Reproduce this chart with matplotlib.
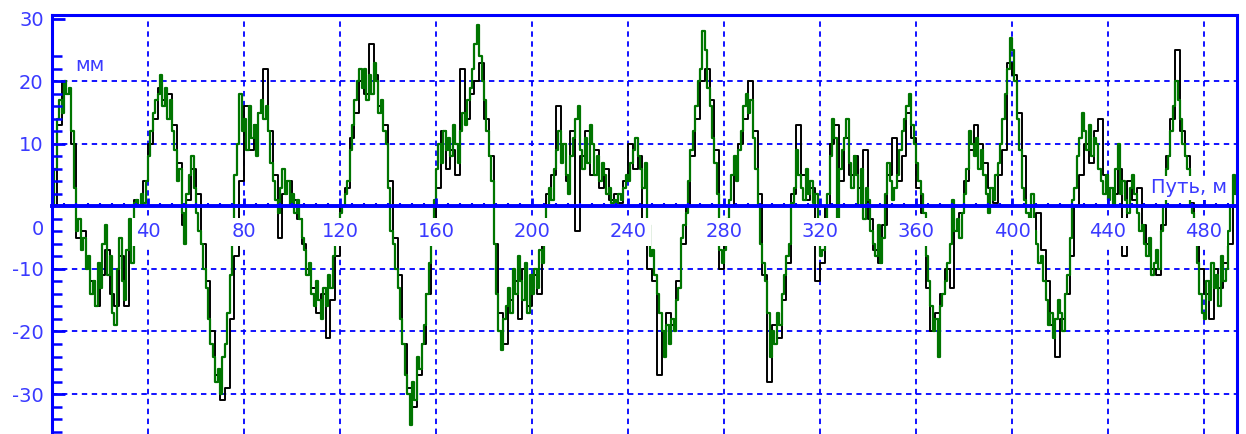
import numpy as np
import matplotlib
matplotlib.use("Agg")
import matplotlib.pyplot as plt
from matplotlib.ticker import FixedLocator

# track deviation, mm, sampled every 1 m (green) and every 2 m (black)
green = [
    0, 6, 14, 17, 15, 20, 18, 19, 12, 3,
    -4, -2, -7, -5, -10, -8, -14, -12, -16, -9,
    -13, -6, -3, -11, -8, -17, -19, -10, -5, -12,
    -15, -7, -2, -9, 0.5, 1, 0, 2, 0.5, 4,
    8, 12, 15, 17, 18, 21, 16, 19, 14, 17,
    12, 9, 4, 6, -1, -6, 2, 5, 8, 3,
    -1, -4, -6, -10, -13, -18, -22, -24, -28, -26,
    -30, -24, -22, -17, -11, -6, 5, 10, 18, 12,
    14, 9, 16, 11, 13, 8, 15, 17, 14, 16,
    12, 7, 4, 1, -1, 3, 6, 2, 4, 0,
    2, -1, 1, -2, -5, -7, -11, -9, -14, -16,
    -12, -15, -18, -13, -16, -11, -13, -8, -6, -4,
    -1, 0, 2, 4, 9, 13, 17, 20, 22, 19,
    22, 17, 21, 18, 23, 20, 15, 17, 12, 10,
    3, -4, -6, -10, -13, -18, -22, -27, -30, -35,
    -28, -31, -24, -26, -22, -19, -14, -9, -5, 1,
    6, 10, 7, 12, 9, 11, 8, 13, 10, 7,
    12, 15, 13, 17, 19, 22, 26, 29, 24, 20,
    17, 12, 8, 4, -6, -14, -20, -23, -18, -16,
    -13, -17, -10, -14, -8, -12, -15, -9, -17, -11,
    -14, -10, -13, -7, -9, -3, 0, 3, 1, 6,
    9, 12, 7, 10, 5, 2, 8, 11, 14, 16,
    9, 6, 11, 7, 13, 10, 5, 8, 4, 7,
    5, 2, 3, 0.5, 1, 0.5, 2, 1, 3, 5,
    4, 7, 9, 11, 8, 6, 3, 7, -3, -8,
    -7, -11, -14, -17, -20, -24, -19, -22, -18, -20,
    -15, -13, -5, -3, -1, 4, 9, 12, 16, 20,
    22, 28, 25, 19, 16, 11, 7, 2, -7, -9,
    -7, -2, 1, 5, 8, 4, 9, 12, 16, 18,
    15, 17, 11, 6, 0, -6, -9, -12, -17, -24,
    -20, -22, -17, -19, -14, -11, -8, -6, 0.5, 3,
    9, 5, 3, 1, 6, 2, 4, 0.5, 2, -6,
    -8, -7, -4, 2, 8, 14, 11, -3, 6, 9,
    11, 14, 7, 3, 8, 5, 0, 6, -2, 3,
    1, -4, -6, -8, -3, -9, -5, 2, 7, 4,
    1, 3, 5, 9, 12, 14, 16, 18, 13, 10,
    7, 4, 2, -1, -8, -12, -16, -20, -18, -24,
    -16, -14, -12, -9, -6, 1, -4, -2, -5, -1,
    2, 6, 12, 10, 8, 11, 6, 9, 5, 2,
    -1, 3, 1, 5, 7, 10, 14, 18, 22, 27,
    25, 20, 14, 9, 3, 1, -1, -3, 2, -4,
    -6, -9, -8, -12, -15, -19, -17, -21, -18, -15,
    -17, -20, -14, -11, -5, 1, 3, 8, 11, 15,
    12, 9, 13, 8, 11, 10, 6, 4, 2, 5,
    1, 3, 0, 6, 10, 2, 4, 1, -1, 3,
    5, 2, -1, -4, -3, -6, -8, -5, -11, -9,
    -7, -10, -4, 0, 6, 8, 12, 16, 20, 17,
    14, 10, 8, 6, 0, -1, -6, -9, -14, -17,
    -18, -12, -15, -9, -13, -11, -16, -8, -12, -10,
    -4, 0, 5, 2, -3,
]
black = [
    0, 13, 20, 18, 10, -5, -4, -9, -12, -16,
    -11, -7, -14, -16, -8, -16, -5, 1, 0, 4,
    10, 14, 19, 17, 18, 13, 7, -3, 1, 6,
    2, -6, -12, -20, -27, -31, -29, -18, -8, 4,
    16, 9, 13, 15, 22, 12, 5, -5, 2, 4,
    1, -2, -6, -10, -13, -17, -14, -21, -15, -8,
    0, 3, 11, 15, 20, 18, 26, 21, 16, 13,
    4, -5, -11, -22, -29, -32, -27, -22, -14, -6,
    3, 12, 6, 9, 5, 22, 14, 18, 20, 23,
    14, 8, -6, -17, -22, -15, -12, -18, -10, -16,
    -11, -14, -6, 2, 5, 16, 10, 4, 12, -4,
    8, 12, 5, 9, 3, 6, 1, 2, 0.5, 4,
    10, 6, 8, -2, -10, -12, -27, -20, -17, -19,
    -12, -6, 0, 8, 14, 20, 22, 17, 9, -10,
    -6, 0, 7, 10, 14, 20, 12, 2, -11, -28,
    -19, -21, -15, -9, 2, 13, 5, 1, 3, -12,
    -9, 0, 10, 13, 4, 11, 5, 8, 3, 9,
    -2, -7, -9, -3, 5, 11, 4, 8, 15, 11,
    3, -1, -13, -20, -17, -14, -10, -13, -4, -1,
    4, 9, 13, 10, 7, 3, 0.5, 5, 9, 23,
    21, 15, 8, 0, -4, -1, -7, -12, -19, -24,
    -18, -14, -8, 0, 5, 10, 7, 12, 14, 5,
    3, 2, 6, -8, 4, 1, 3, -3, -6, -10,
    -11, -3, 8, 14, 25, 12, 8, 0.5, -5, -10,
    -14, -18, -10, -13, -9, -6, 2, -4,
]
x_green = np.arange(len(green))          # distance, m
x_black = np.arange(len(black)) * 2

x_ticks = [40, 80, 120, 160, 200, 240, 280, 320, 360, 400, 440, 480]
y_ticks = [-30, -20, -10, 10, 20, 30]

blue = "#0000ff"
txt = "#3a3aff"
fs = 14

fig = plt.figure(figsize=(12.46, 4.34), dpi=100)
ax = fig.add_axes([52 / 1246, 0, (1237 - 52) / 1246, (434 - 15) / 434])
ax.set_xlim(0, 493.75)
ax.set_ylim(-36.4, 30.64)
ax.set_axisbelow(False)

# dashed grid
for yv in [-30, -20, -10, 10, 20]:
    ax.axhline(yv, color=blue, lw=1.3, dashes=(3, 2.5), zorder=1)
for xv in x_ticks:
    ax.axvline(xv, color=blue, lw=1.3, dashes=(3, 2.5), zorder=1)

ax.plot(x_black, black, color="black", lw=1.4, drawstyle="steps-post", zorder=2)
ax.plot(x_green, green, color="#007500", lw=1.6, drawstyle="steps-post", zorder=2.1)

for s in ["top", "left", "right"]:
    ax.spines[s].set_color(blue)
    ax.spines[s].set_linewidth(2.2)
ax.spines["bottom"].set_position(("data", 0))
ax.spines["bottom"].set_color(blue)
ax.spines["bottom"].set_linewidth(2.8)

ax.set_xticks(x_ticks)
ax.set_xticklabels([str(v) for v in x_ticks])
ax.xaxis.set_minor_locator(FixedLocator(np.arange(5, 494, 5)))
ax.tick_params(axis="x", which="major", direction="in", length=6, width=2,
               color=blue, pad=11.5, labelsize=fs, labelcolor=txt)
ax.tick_params(axis="x", which="minor", direction="in", length=2.5, width=1.5,
               color=blue)
plt.setp(ax.get_xticklabels(), bbox=dict(facecolor="white", edgecolor="none", pad=3))

ax.set_yticks(y_ticks)
ax.set_yticklabels([str(v) for v in y_ticks])
ax.yaxis.set_minor_locator(FixedLocator([v for v in range(-36, 25, 2) if v % 10]))
ax.tick_params(axis="y", which="major", direction="in", length=9, width=2,
               color=blue, pad=6, labelsize=fs, labelcolor=txt)
ax.tick_params(axis="y", which="minor", direction="in", length=7, width=1.8,
               color=blue)

ax.text(-0.0065, -3.76, "0", transform=ax.get_yaxis_transform(), ha="right",
        va="center", fontsize=fs, color=txt, clip_on=False)
ax.text(9.6, 22.6, "мм", ha="left", va="center", fontsize=fs, color=txt)
ax.text(489.6, 3.0, "Путь, м", ha="right", va="center", fontsize=fs, color=txt,
        zorder=3, bbox=dict(facecolor="white", edgecolor="none", pad=2))

fig.savefig("out.png", dpi=100)
